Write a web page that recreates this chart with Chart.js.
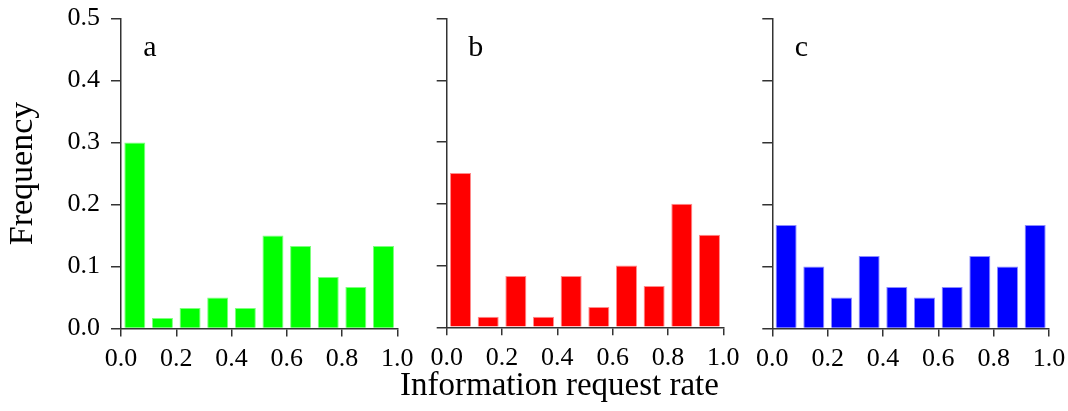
<!DOCTYPE html>
<html>
<head>
<meta charset="utf-8">
<script src="https://cdn.jsdelivr.net/npm/chart.js@4.4.1/dist/chart.umd.min.js"></script>
<style>
  html, body { margin: 0; padding: 0; background: #fff; }
  #wrap { position: relative; width: 1068px; height: 411px; overflow: hidden; }
  canvas { position: absolute; top: 0; }
</style>
</head>
<body>
<div id="wrap">
  <canvas id="panel-a" width="430" height="411" style="left:0px"></canvas>
  <canvas id="panel-b" width="370" height="411" style="left:380px"></canvas>
  <canvas id="panel-c" width="338" height="411" style="left:730px"></canvas>
</div>
<script>
// bin centres of the histogram (bins of width 0.1)
const binCenters = [0.05, 0.15, 0.25, 0.35, 0.45, 0.55, 0.65, 0.75, 0.85, 0.95];

// frequencies
const freqA = [0.300, 0.017, 0.033, 0.050, 0.033, 0.150, 0.133, 0.083, 0.067, 0.133];
const freqB = [0.250, 0.017, 0.083, 0.017, 0.083, 0.033, 0.100, 0.067, 0.200, 0.150];
const freqC = [0.167, 0.100, 0.050, 0.117, 0.067, 0.050, 0.067, 0.117, 0.100, 0.167];

const panelLabels = ['a', 'b', 'c'];
const barColors = ['#00ff00', '#ff0000', '#0000ff'];
const barEdges = ['#7dff7d', '#ff8c8c', '#8c8cff'];

const xTitle = 'Information request rate';
const yTitle = 'Frequency';

const FONT = "'Liberation Serif', 'Times New Roman', serif";
const AXIS = '#333';

// writes "a", "b", "c" inside each panel
const panelLabelPlugin = {
  id: 'panelLabel',
  afterDatasetsDraw(chart, args, opts) {
    const { ctx, scales: { x, y } } = chart;
    ctx.save();
    ctx.font = `30px ${FONT}`;
    ctx.fillStyle = '#000';
    ctx.textAlign = 'center';
    ctx.textBaseline = 'alphabetic';
    ctx.fillText(opts.text, x.getPixelForValue(0.105), y.getPixelForValue(0.44));
    ctx.restore();
  }
};

function makePanel(id, idx, values, cfg) {
  const ctx = document.getElementById(id).getContext('2d');
  return new Chart(ctx, {
    type: 'bar',
    data: {
      datasets: [{
        data: binCenters.map((c, i) => ({ x: c, y: values[i] })),
        backgroundColor: barColors[idx],
        borderColor: barEdges[idx],
        borderWidth: { top: 1, left: 1, right: 1, bottom: 0 },
        borderSkipped: 'bottom',
        categoryPercentage: 1.0,
        barPercentage: 0.76
      }]
    },
    options: {
      responsive: false,
      devicePixelRatio: 1,
      animation: false,
      layout: { padding: cfg.padding },
      plugins: {
        legend: { display: false },
        tooltip: { enabled: false },
        panelLabel: { text: panelLabels[idx] },
        title: cfg.showXTitle ? {
          display: true,
          position: 'bottom',
          fullSize: true,
          text: xTitle,
          color: '#000',
          font: { family: FONT, size: 33, weight: 'normal' },
          padding: { top: 0, bottom: 4.8 }
        } : { display: false }
      },
      scales: {
        x: {
          type: 'linear',
          min: 0,
          max: 1,
          offset: false,
          grid: { display: true, offset: false, drawOnChartArea: false, drawTicks: true, tickLength: 8, color: AXIS, lineWidth: 1.5 },
          border: { display: true, color: AXIS, width: 1.5 },
          ticks: {
            stepSize: 0.2,
            padding: 7,
            color: '#000',
            font: { family: FONT, size: 26 },
            maxRotation: 0,
            autoSkip: false,
            callback: (v) => v.toFixed(1)
          },
          afterFit: (s) => {
            s.height = cfg.xHeight;
            s.paddingLeft = 0;
            s.paddingRight = 0;
          }
        },
        y: {
          min: 0,
          max: 0.5,
          grid: { display: true, drawOnChartArea: false, drawTicks: true, tickLength: 10, color: AXIS, lineWidth: 1.5 },
          border: { display: true, color: AXIS, width: 1.5 },
          ticks: {
            display: cfg.showYLabels,
            stepSize: 0.1,
            padding: 11,
            color: '#000',
            font: { family: FONT, size: 26 },
            callback: (v) => v.toFixed(1)
          },
          title: {
            display: cfg.showYLabels,
            text: yTitle,
            color: '#000',
            font: { family: FONT, size: 34 },
            padding: { top: 3, bottom: 0 }
          },
          afterFit: (s) => {
            s.width = cfg.yWidth;
            s.paddingTop = 0;
            s.paddingBottom = 0;
          }
        }
      }
    },
    plugins: [panelLabelPlugin]
  });
}

makePanel('panel-a', 0, freqA, {
  padding: { left: 0, right: 32.7, top: 18.5, bottom: 0 },
  yWidth: 121, xHeight: 82.5, showYLabels: true, showXTitle: false
});
makePanel('panel-b', 1, freqB, {
  padding: { left: 15.7, right: 26.7, top: 18.5, bottom: 0 },
  yWidth: 51, xHeight: 39.3, showYLabels: false, showXTitle: true
});
makePanel('panel-c', 2, freqC, {
  padding: { left: 0, right: 19, top: 18.5, bottom: 0 },
  yWidth: 42.3, xHeight: 82.5, showYLabels: false, showXTitle: false
});
</script>
</body>
</html>
